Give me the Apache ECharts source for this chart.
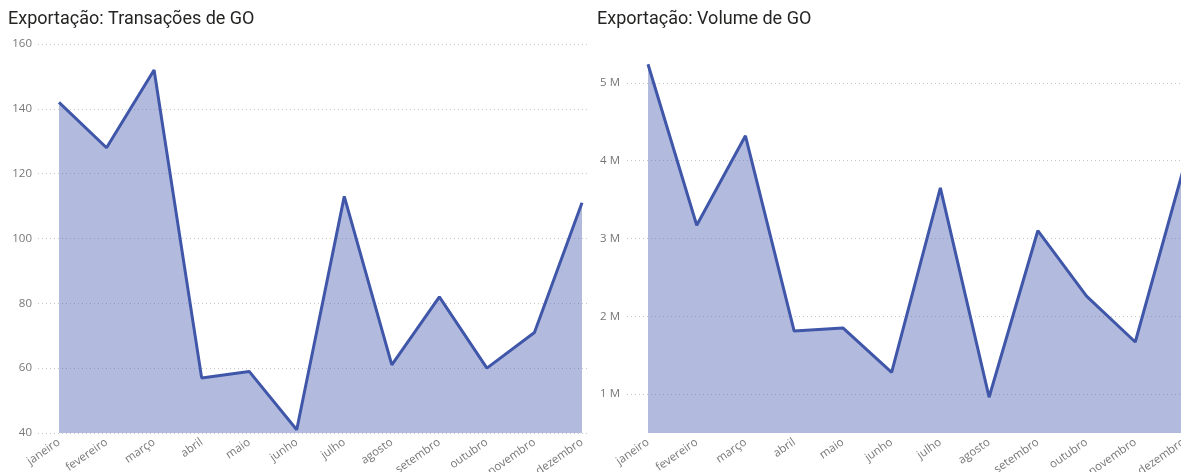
<!DOCTYPE html>
<html>
<head>
<meta charset="utf-8">
<script src="https://cdn.jsdelivr.net/npm/echarts@6/dist/echarts.min.js"></script>
<style>
  html, body { margin: 0; padding: 0; background: #fff; }
  #chart { width: 1181px; height: 472px; }
</style>
</head>
<body>
<div id="chart"></div>
<script>
// Months shown on both category axes
const months = ['janeiro', 'fevereiro', 'março', 'abril', 'maio', 'junho',
  'julho', 'agosto', 'setembro', 'outubro', 'novembro', 'dezembro'];

// Number of GO export transactions per month
const transacoes = [142, 128, 152, 57, 59, 41, 113, 61, 82, 60, 71, 111];

// GO export volume per month
const volume = [5240000, 3170000, 4320000, 1810000, 1850000, 1280000,
  3650000, 960000, 3100000, 2260000, 1670000, 3920000];

const titles = ['Exportação: Transações de GO', 'Exportação: Volume de GO'];

const lineColor = '#3F56A9';
const labelColor = '#777777';
const gridColor = '#C8C8C8';
const labelFont = '"Segoe UI", "Open Sans", "Noto Sans", sans-serif';

const chart = echarts.init(document.getElementById('chart'));

const TOP = 44, HEIGHT = 389;

const titleStyle = { fontFamily: 'Roboto', fontWeight: 'normal', fontSize: 18, color: '#252423' };
const monthLabel = { rotate: 35, interval: 0, margin: 8, color: labelColor,
  fontFamily: labelFont, fontSize: 11.5 };

const option = {
  animation: false,
  title: [
    { text: titles[0], left: 8, top: 10, padding: 0, textStyle: titleStyle },
    { text: titles[1], left: 597, top: 10, padding: 0, textStyle: titleStyle }
  ],
  grid: [
    // backdrop grids carry the value labels and dotted split lines
    { left: 38, top: TOP, width: 552, height: HEIGHT, outerBoundsMode: 'none' },
    { left: 59, top: TOP, width: 523, height: HEIGHT, outerBoundsMode: 'none' },
    { left: 627, top: TOP, width: 580, height: HEIGHT, outerBoundsMode: 'none' },
    { left: 648, top: TOP, width: 536, height: HEIGHT, outerBoundsMode: 'none' }
  ],
  xAxis: [
    { gridIndex: 0, type: 'category', data: months, show: false },
    { gridIndex: 1, type: 'category', data: months, boundaryGap: false,
      axisLine: { show: false }, axisTick: { show: false }, axisLabel: monthLabel },
    { gridIndex: 2, type: 'category', data: months, show: false },
    { gridIndex: 3, type: 'category', data: months, boundaryGap: false,
      axisLine: { show: false }, axisTick: { show: false }, axisLabel: monthLabel }
  ],
  yAxis: [
    { gridIndex: 0, type: 'value', min: 40, max: 160, interval: 20,
      axisLine: { show: false }, axisTick: { show: false },
      axisLabel: { margin: 6, color: labelColor, fontFamily: labelFont, fontSize: 11.5 },
      splitLine: { show: true, lineStyle: { color: gridColor, type: [1, 3], width: 1 } } },
    { gridIndex: 1, type: 'value', min: 40, max: 160, interval: 20, show: false,
      splitLine: { show: false } },
    { gridIndex: 2, type: 'value', min: 500000, max: 5500000, interval: 500000,
      axisLine: { show: false }, axisTick: { show: false },
      axisLabel: { margin: 7, color: labelColor, fontFamily: labelFont, fontSize: 11.5,
        formatter: v => (Math.round(v) % 1000000 === 0 ? (v / 1000000) + ' M' : '') },
      // every other tick sits on a whole million; only those get a line
      splitLine: { show: true, lineStyle: { color: ['rgba(0,0,0,0)', gridColor], type: [1, 3], width: 1 } } },
    { gridIndex: 3, type: 'value', min: 500000, max: 5500000, interval: 500000, show: false,
      splitLine: { show: false } }
  ],
  series: [
    { type: 'line', xAxisIndex: 1, yAxisIndex: 1, data: transacoes,
      showSymbol: false, z: 1,
      lineStyle: { color: lineColor, width: 3 },
      itemStyle: { color: lineColor },
      areaStyle: { origin: 'start', color: lineColor, opacity: 0.4 } },
    { type: 'line', xAxisIndex: 3, yAxisIndex: 3, data: volume,
      showSymbol: false, z: 1,
      lineStyle: { color: lineColor, width: 3 },
      itemStyle: { color: lineColor },
      areaStyle: { origin: 'start', color: lineColor, opacity: 0.4 } }
  ]
};

chart.setOption(option);
</script>
</body>
</html>
